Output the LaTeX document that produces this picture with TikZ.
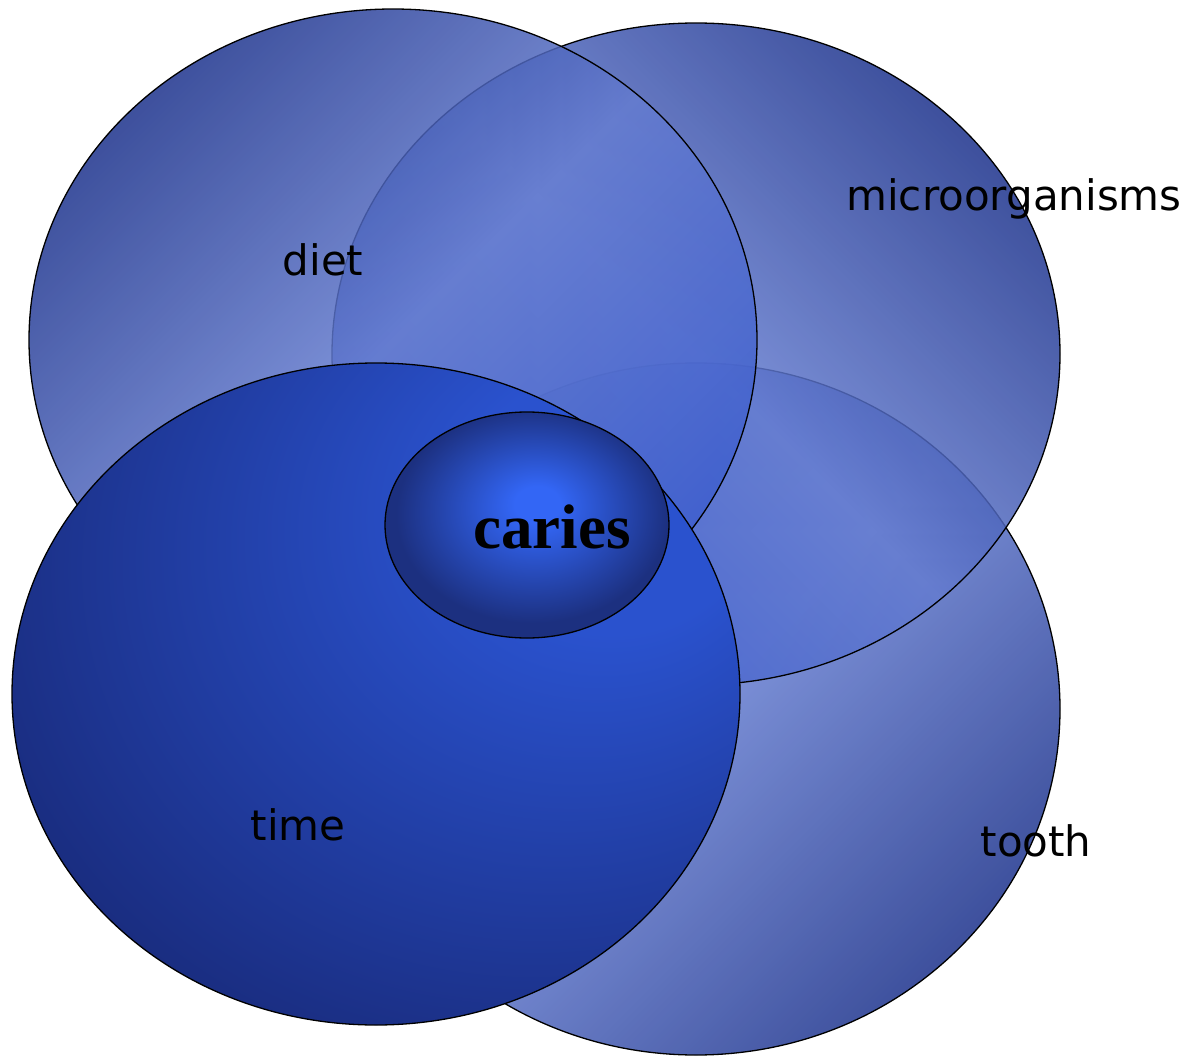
\documentclass[tikz,border=0pt]{standalone}
\usepackage{fontspec}
\setmainfont{DejaVu Sans}
\newfontfamily\cariesfont{Liberation Serif}
\usetikzlibrary{shapes,positioning}
\definecolor{venndark}{RGB}{28,50,140}
\definecolor{vennlight}{RGB}{100,124,208}
\definecolor{vennmid}{RGB}{62,94,206}
\definecolor{timebright}{RGB}{42,82,206}
\definecolor{timedark}{RGB}{24,41,120}
\definecolor{cariesbright}{RGB}{51,102,245}
\definecolor{cariesdark}{RGB}{28,48,128}
\pgfdeclareradialshading{timeshade}{\pgfpoint{19bp}{17bp}}{%
  color(0bp)=(timebright); color(10bp)=(timebright); color(40bp)=(timedark); color(70bp)=(timedark)}
\pgfdeclareradialshading{cariesshade}{\pgfpoint{2bp}{5bp}}{%
  color(0bp)=(cariesbright); color(4bp)=(cariesbright); color(24bp)=(cariesdark); color(45bp)=(cariesdark)}
\tikzset{%
    venn/.style={%
        ellipse, draw=black, line width=1.3pt, inner sep=0pt,
        minimum width=728pt, minimum height=662pt
    },
    venn_soft/.style={%
        venn, fill opacity=0.85,
        top color=venndark, bottom color=vennmid, middle color=vennlight, shading angle=#1
    },
    venn_text/.style={%
        anchor=base, text=black, font=\fontsize{42}{50}\selectfont
    },
    caries_text/.style={%
        anchor=base, text=black, font=\cariesfont\bfseries\fontsize{63}{70}\selectfont
    },
}

\begin{document}
\begin{tikzpicture}[x=1pt,y=-1pt]
      \useasboundingbox (0,0) rectangle (1192,1057);
      \node[venn_soft=-135, minimum height=692pt] (tooth) at (696,709) {};
      \node[venn_soft=-45] (micro) at (696,354) {};
      \node[venn_soft=45] (diet) at (393,340) {};
      \node[venn, shading=timeshade] (time) at (376,694) {};
      \node[venn, shading=cariesshade, minimum width=284pt, minimum height=226pt] (caries) at (527,525) {};

      \node[venn_text] (dietlabel) at (323,275) {diet};
      \node[venn_text] (microlabel) at (1014,210) {microorganisms};
      \node[venn_text] (timelabel) at (298,840) {time};
      \node[venn_text] (toothlabel) at (1036,856) {tooth};
      \node[caries_text] (carieslabel) at (552,548) {caries};
    \end{tikzpicture}
\end{document}
